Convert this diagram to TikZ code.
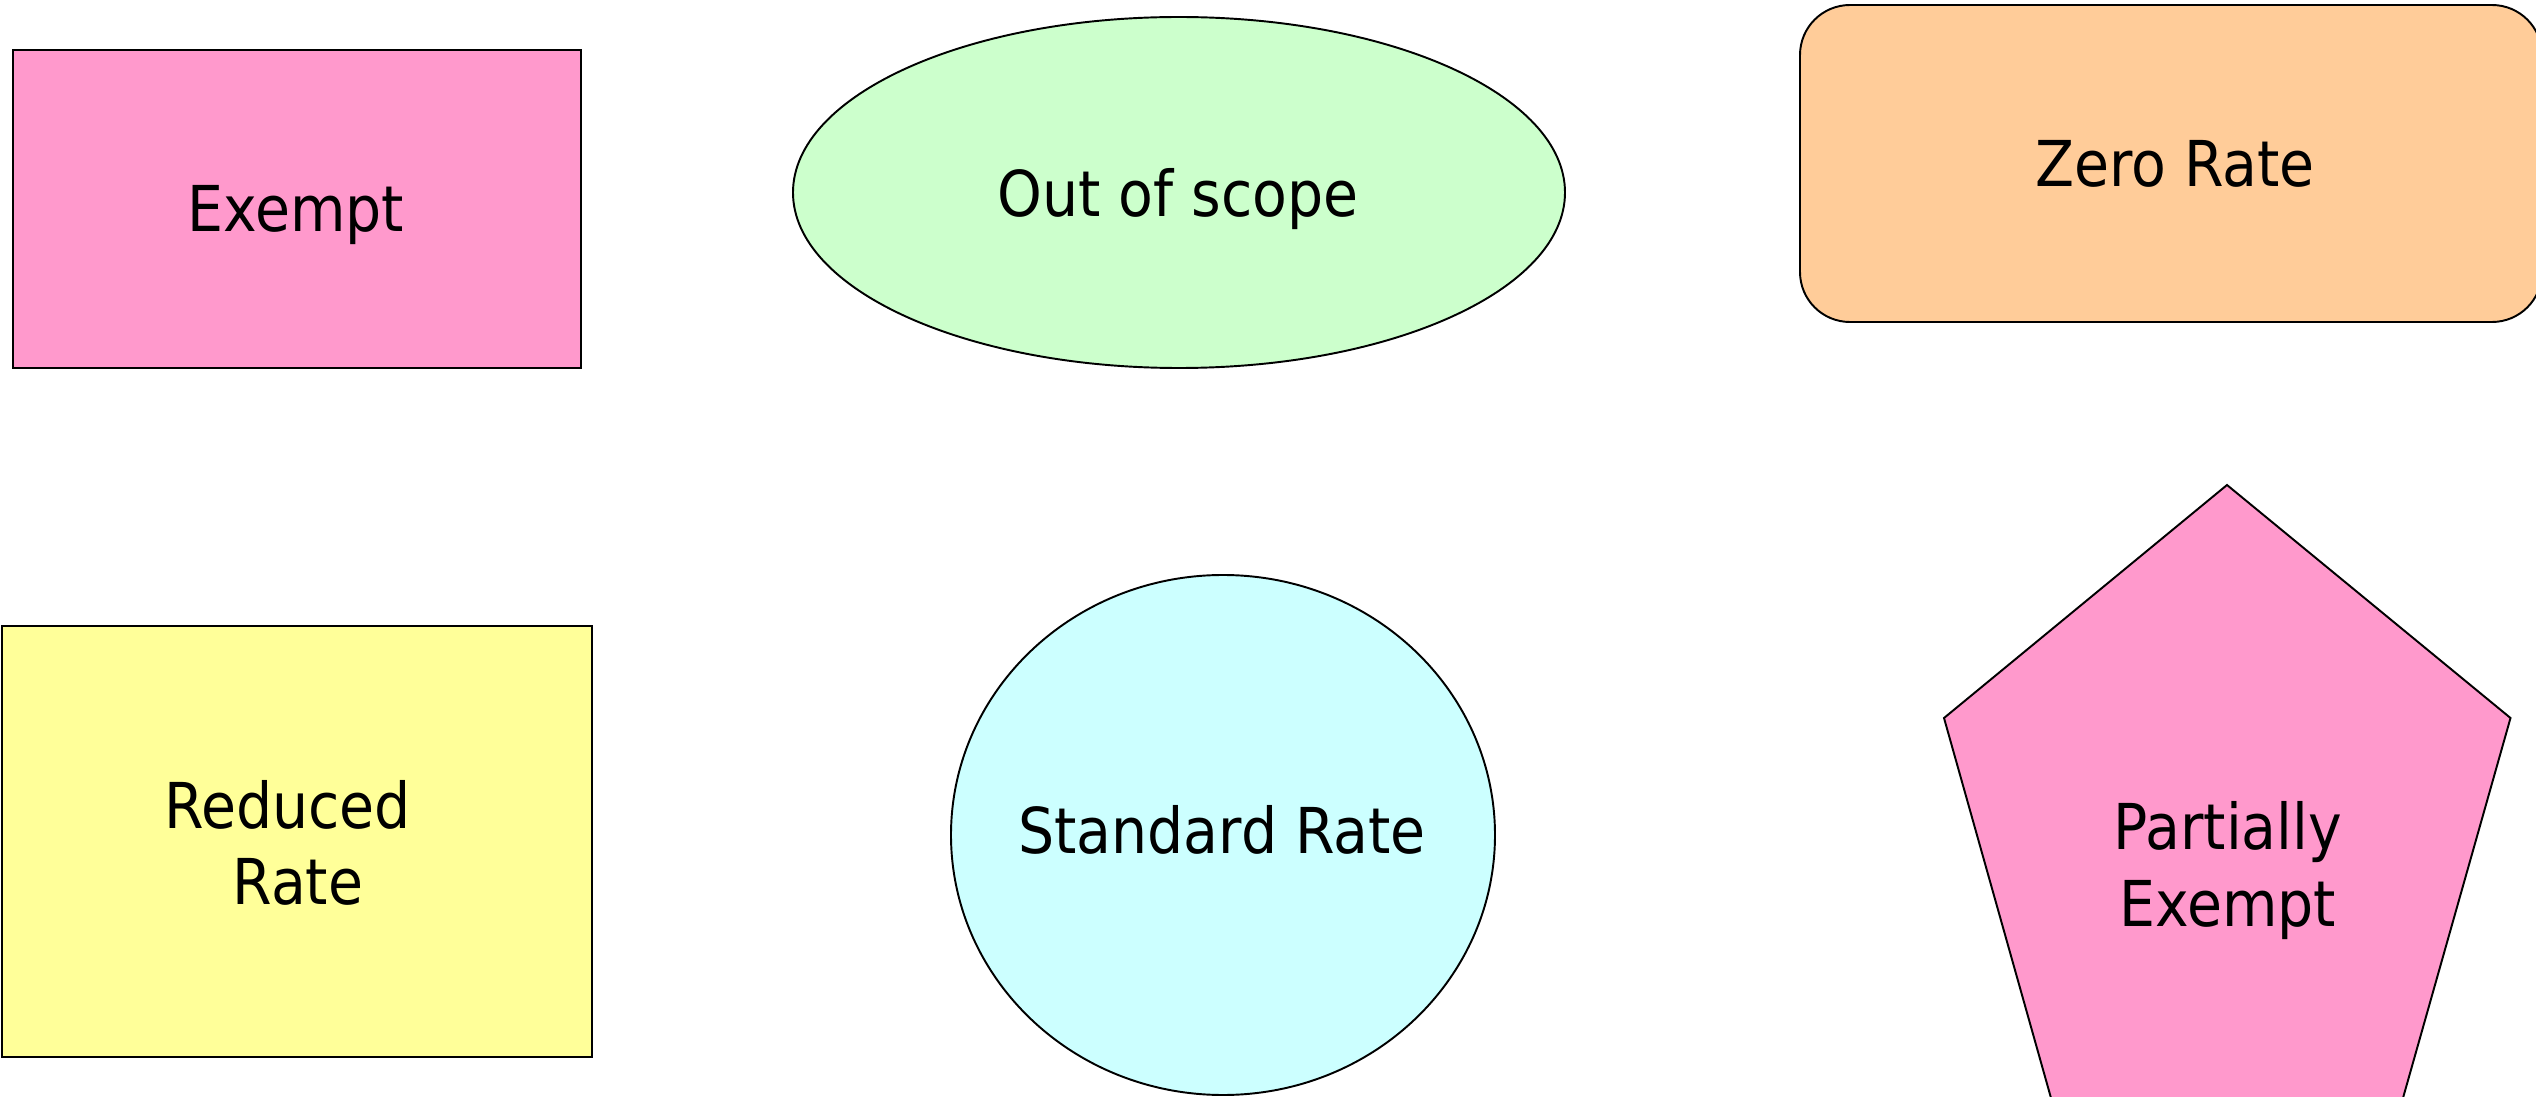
\documentclass[tikz,border=0pt]{standalone}
\usepackage{fontspec}
\setmainfont{DejaVu Sans Condensed}
\usetikzlibrary{shapes.geometric}
\definecolor{pinkc}{HTML}{FF99CC}
\definecolor{greenc}{HTML}{CCFFCC}
\definecolor{orangec}{HTML}{FFCC99}
\definecolor{yellowc}{HTML}{FFFF99}
\definecolor{cyanc}{HTML}{CCFFFF}
\begin{document}
\begin{tikzpicture}[
  shapebox/.style={draw=black, line width=0.55pt, inner sep=0pt, outer sep=0pt},
  lbl/.style={anchor=base, inner sep=0pt, font=\fontsize{18}{21.6}\selectfont}
]
\useasboundingbox (0,0) rectangle (25.36,10.96);
% Exempt
\node[shapebox, rectangle, fill=pinkc, minimum width=5.68cm, minimum height=3.18cm] (exempt) at (2.97,8.87) {};
\node[lbl] (exemptt) at (2.96,8.64) {Exempt};
% Out of scope
\node[shapebox, ellipse, fill=greenc, minimum width=7.72cm, minimum height=3.51cm] (oos) at (11.79,9.035) {};
\node[lbl] (oost) at (11.78,8.79) {Out of scope};
% Zero Rate
\node[shapebox, rectangle, rounded corners=0.5cm, fill=orangec, minimum width=7.42cm, minimum height=3.17cm] (zero) at (21.71,9.325) {};
\node[lbl] (zerot) at (21.75,9.09) {Zero Rate};
% Reduced Rate
\node[shapebox, rectangle, fill=yellowc, minimum width=5.90cm, minimum height=4.31cm] (reduced) at (2.97,2.545) {};
\node[lbl] (reducedt1) at (2.875,2.68) {Reduced};
\node[lbl] (reducedt2) at (2.98,1.92) {Rate};
% Standard Rate
\node[shapebox, ellipse, fill=cyanc, minimum width=5.44cm, minimum height=5.20cm] (standard) at (12.23,2.61) {};
\node[lbl] (standardt) at (12.22,2.43) {Standard Rate};
% Partially Exempt
\coordinate (pa) at (22.27,6.11);
\coordinate (pb) at (25.105,3.78);
\coordinate (pc) at (24.03,-0.02);
\coordinate (pd) at (20.51,-0.02);
\coordinate (pe) at (19.44,3.78);
\draw[line width=0.55pt, fill=pinkc, line join=miter] (pa) -- (pb) -- (pc) -- (pd) -- (pe) -- cycle;
\node[lbl] (partt1) at (22.28,2.465) {Partially};
\node[lbl] (partt2) at (22.28,1.70) {Exempt};
\end{tikzpicture}
\end{document}
